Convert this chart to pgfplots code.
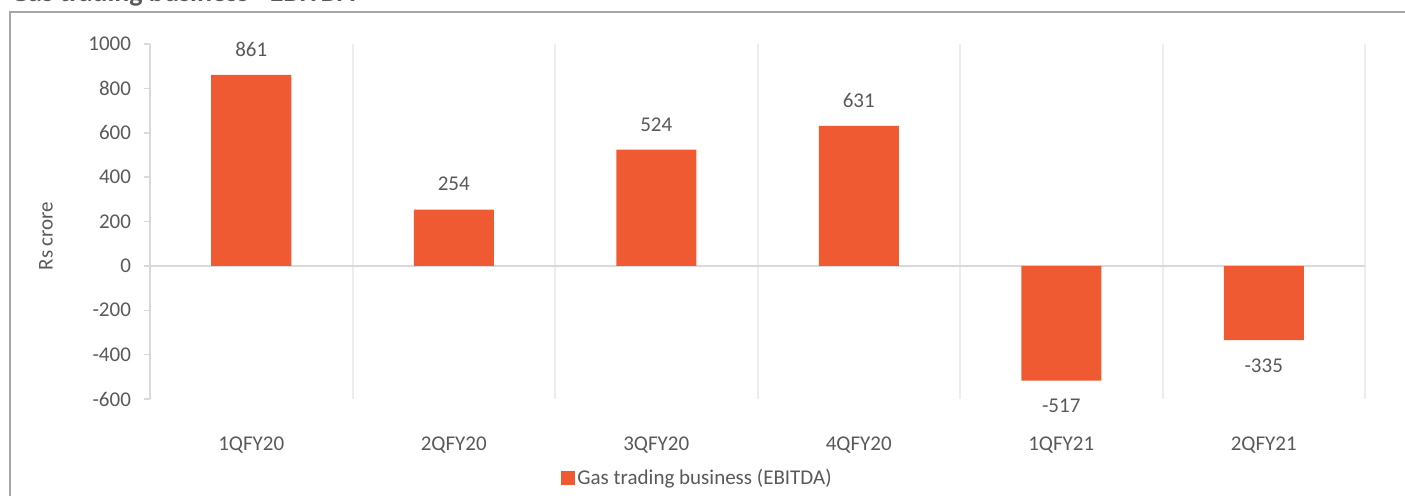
\documentclass[border=0pt]{standalone}
\usepackage{fontspec}
\setmainfont{Carlito}
\usepackage{pgfplots}
\pgfplotsset{compat=1.18}
\definecolor{barc}{HTML}{F05A32}
\definecolor{txt}{HTML}{595959}
\definecolor{axg}{HTML}{D9D9D9}
\definecolor{grd}{HTML}{EDEDED}
\definecolor{frm}{HTML}{A6A6A6}
\begin{document}
\begin{tikzpicture}
\path[use as bounding box] (0,0) rectangle (702.5pt,247.5pt);
\begin{scope}
\clip (0,0) rectangle (702.5pt,247.5pt);
\node[anchor=base west, inner sep=0pt, text=txt, font=\fontsize{14}{16}\selectfont\bfseries] at (5pt,246.8pt) {Gas trading business - EBITDA};
\draw[frm, line width=1pt] (4.75pt,-5pt) -- (4.75pt,241.5pt) -- (720pt,241.5pt);
\end{scope}
\node[rotate=90, text=txt, font=\fontsize{10.5}{12}\selectfont] at (23pt,129.5pt) {Rs crore};
\begin{axis}[
  at={(75pt,48pt)}, anchor=south west,
  scale only axis, width=607.5pt, height=177.5pt,
  xmin=-0.5, xmax=5.5, ymin=-600, ymax=1000,
  ytick={-600,-400,...,1000},
  xtick={0,1,2,3,4,5},
  xticklabels={1QFY20,2QFY20,3QFY20,4QFY20,1QFY21,2QFY21},
  minor xtick={0.5,1.5,2.5,3.5,4.5,5.5},
  xminorgrids,
  minor x grid style={grd, line width=1pt},
  xtick style={draw=none},
  minor tick length=0pt,
  axis lines*=left,
  x axis line style={draw=none},
  y axis line style={axg, line width=0.75pt},
  ytick style={axg, line width=0.75pt},
  tick align=outside,
  major tick length=3pt,
  ticklabel style={text=txt, font=\fontsize{10.5}{12}\selectfont},
  /pgf/number format/assume math mode=true,
  /pgf/number format/1000 sep={},
  yticklabel style={xshift=-3pt},
  xticklabel style={yshift=-12.5pt},
  ybar, bar width=40pt,
  nodes near coords,
  every node near coord/.append style={text=txt, font=\fontsize{10.5}{12}\selectfont, inner ysep=9pt},
  legend style={at={(0.3383,-0.2225)}, anchor=west, draw=none, inner sep=0pt, font=\fontsize{10.5}{12}\selectfont, text=txt, nodes={inner sep=1pt}},
  legend image code/.code={\fill[barc] (0pt,-3.5pt) rectangle (7pt,3.5pt);},
  clip=false,
]
\draw[axg, line width=0.75pt] (axis cs:-0.5,0) -- (axis cs:5.5,0);
\addplot[fill=barc, draw=none] coordinates {(0,861) (1,254) (2,524) (3,631) (4,-517) (5,-335)};
\legend{Gas trading business (EBITDA)}
\end{axis}
\end{tikzpicture}
\end{document}
